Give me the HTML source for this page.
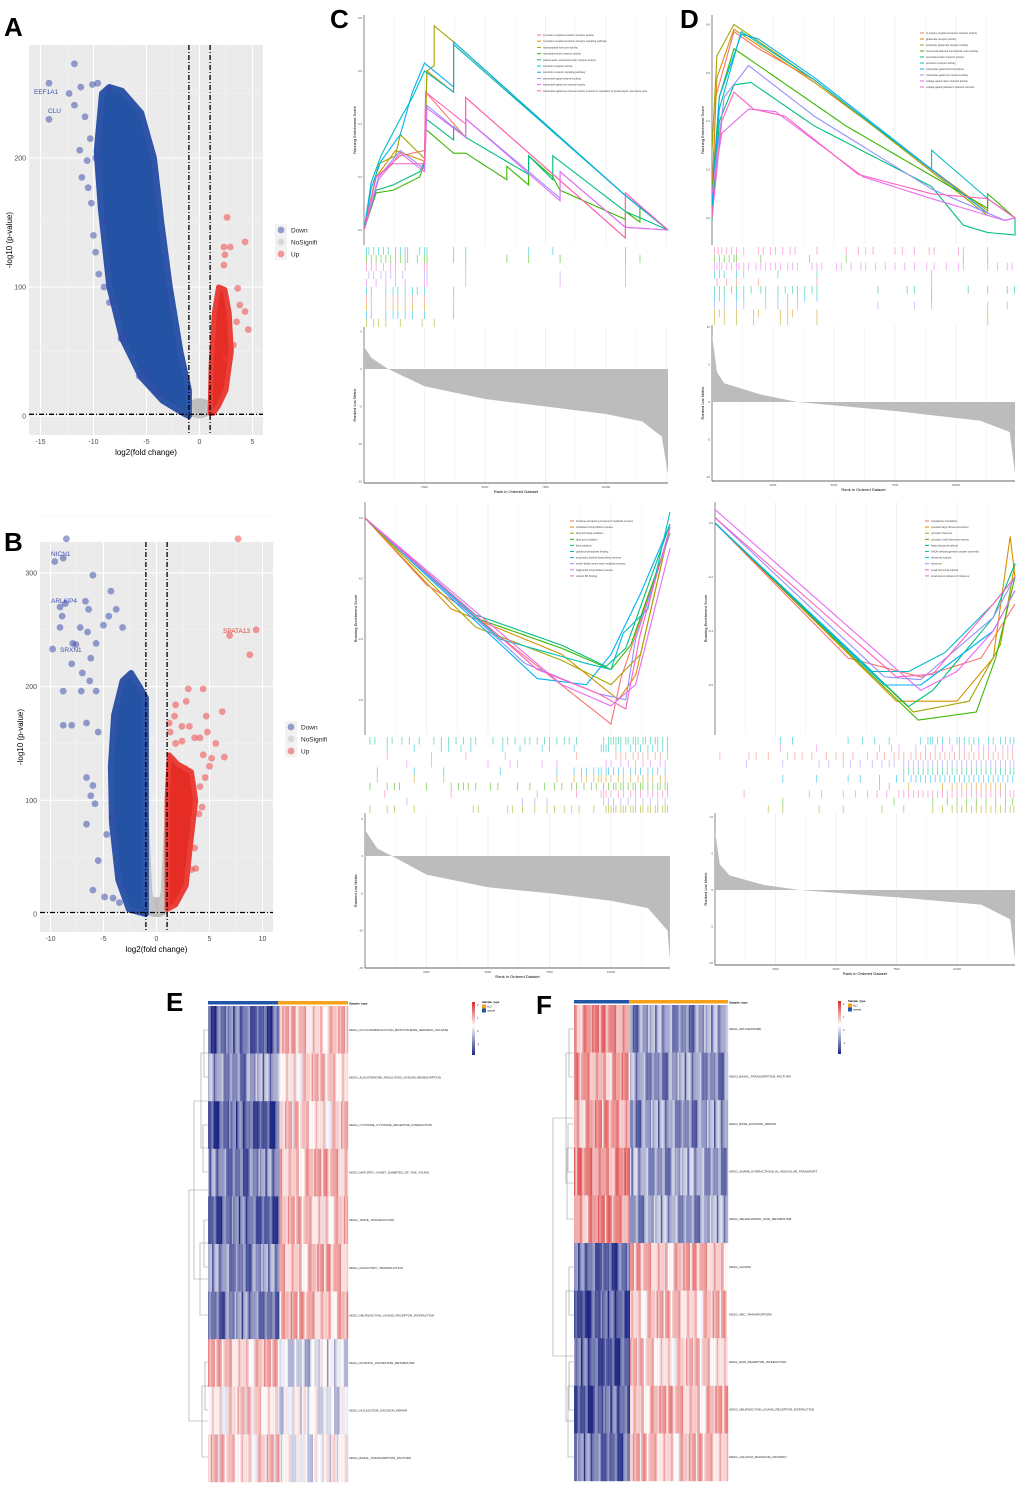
<!DOCTYPE html>
<html><head><meta charset="utf-8"><style>
body{margin:0;background:#fff}
svg{display:block;font-family:"Liberation Sans",sans-serif}
</style></head><body>
<svg id="fig" width="1020" height="1487" viewBox="0 0 1020 1487" xmlns="http://www.w3.org/2000/svg">
<text x="4" y="36" font-size="26" font-weight="bold">A</text>
<text x="4" y="551" font-size="26" font-weight="bold">B</text>
<text x="330" y="28" font-size="26" font-weight="bold">C</text>
<text x="680" y="28" font-size="26" font-weight="bold">D</text>
<text x="166" y="1011" font-size="26" font-weight="bold">E</text>
<text x="536" y="1014" font-size="26" font-weight="bold">F</text>
</svg>
<script>
const svg=document.getElementById('fig');
const NS='http://www.w3.org/2000/svg';
function mk(tag,attrs,parent){const e=document.createElementNS(NS,tag);for(const k in attrs)e.setAttribute(k,attrs[k]);(parent||svg).appendChild(e);return e;}
function txt(x,y,s,size,attrs,parent){const e=mk('text',Object.assign({x:x,y:y,'font-size':size},attrs||{}),parent);e.textContent=s;return e;}

/* ================= VOLCANO DATA ================= */
const aXTicks=[-15,-10,-5,0,5];
const aYTicks=[0,100,200];
const aDownBand=[[-9.2,250],[-9.7,205],[-9.3,160],[-8.5,100],[-7.3,60],[-5.5,30],[-3.5,12],[-1.5,2],[-1,0],[-1,20],[-1.8,50],[-2.8,100],[-3.6,150],[-4.3,200],[-5.5,235],[-7.3,252],[-8.5,255]];
const aUpBand=[[1,2],[1.1,40],[1.4,80],[1.8,100],[2.4,98],[2.8,80],[3.0,50],[2.5,20],[1.8,8],[1.3,2]];
const aDownOut=[[-11.8,273],[-14.2,258],[-12.3,250],[-11.2,255],[-10.1,257],[-8.6,254],[-9.6,258],[-11.8,241],[-14.2,230],[-10.8,232],[-10.3,215],[-11.3,206],[-10.6,198],[-11.1,185],[-10.5,177],[-10.2,165],[-10.0,140],[-9.8,127],[-9.5,110],[-9.0,100],[-8.5,88],[-7.4,60],[-7.0,63],[-5.7,31],[-5.2,35],[-4.8,28],[-4.4,22],[-3.9,18],[-9.0,150],[-9.8,200]];
const aUpOut=[[2.6,154],[4.3,135],[2.3,131],[2.9,131],[2.4,125],[2.3,117],[3.6,99],[3.8,86],[4.3,81],[3.5,73],[4.6,67],[3.2,55],[2.5,45]];
const bXTicks=[-10,-5,0,5,10];
const bYTicks=[0,100,200,300];
const bDownBand=[[-1,0],[-2.6,4],[-3.6,30],[-4.2,80],[-4.3,130],[-4.0,175],[-3.2,205],[-2.4,212],[-1.6,200],[-1.0,190],[-1,60]];
const bUpBand=[[1,4],[1,100],[1.2,140],[2.0,132],[3.3,125],[3.7,100],[3.2,60],[2.8,25],[1.8,8]];
const bDownOut=[[-8.5,330],[-9.6,310],[-8.8,313],[-6,298],[-4.3,284],[-6.7,275],[-9.1,270],[-8.6,273],[-6.4,268],[-3.8,268],[-4.5,262],[-8.9,262],[-7.2,252],[-9.1,252],[-6.5,248],[-5.0,254],[-3.2,252],[-9.8,233],[-7.9,238],[-7.6,237],[-5.7,238],[-8.0,220],[-6.2,225],[-7.0,212],[-6.3,205],[-8.8,196],[-7.1,196],[-5.7,196],[-8.8,166],[-8.0,166],[-6.6,168],[-5.5,160],[-6.6,120],[-6.0,113],[-6.2,104],[-5.8,97],[-6.6,79],[-5.5,47],[-6.0,21],[-4.9,15],[-4.1,14],[-3.5,10],[-4.7,70],[-4.2,85]];
const bUpOut=[[7.7,330],[9.4,250],[6.9,245],[8.8,228],[3.0,198],[4.4,198],[2.8,187],[1.8,184],[1.7,174],[6.2,178],[4.7,174],[1.2,168],[2.4,165],[3.1,165],[4.8,160],[1.3,160],[1.8,150],[2.4,152],[3.6,155],[4.1,155],[5.6,150],[4.4,140],[5.2,137],[6.4,138],[5.0,130],[2.7,128],[4.6,120],[4.1,112],[4.3,94],[4.0,88],[3.6,58],[3.7,40],[3.3,39]];

/* ================= GSEA DATA ================= */
const rankTicks=[2500,5000,7500,10000];
const ctESTicks=[0,0.2,0.4,0.6,0.8];
const dtESTicks=[0,0.2,0.4,0.6,0.8];
const cbESTicks=[0,-0.2,-0.4,-0.6];
const dbESTicks=[0,-0.2,-0.4,-0.6];
const ctMetricTicks=[5,0,-5,-10,-15];
const dtMetricTicks=[10,5,0,-5,-10];
const cbMetricTicks=[5,0,-5,-10,-15];
const dbMetricTicks=[10,5,0,-5,-10];
const ctNames=['G protein-coupled serotonin receptor activity','G protein-coupled serotonin receptor signaling pathway','neuropeptide hormone activity','neurotransmitter receptor activity','postsynaptic neurotransmitter receptor activity','serotonin receptor activity','serotonin receptor signaling pathway','transmitter-gated channel activity','transmitter-gated ion channel activity','transmitter-gated ion channel activity involved in regulation of postsynaptic membrane pote'];
const dtNames=['G protein-coupled serotonin receptor activity','glutamate receptor activity','ionotropic glutamate receptor activity','minus-end-directed microtubule motor activity','neurotransmitter receptor activity','serotonin receptor activity','transmitter-gated channel activity','transmitter-gated ion channel activity','voltage-gated cation channel activity','voltage-gated potassium channel complex'];
const cbNames=['benzene-containing compound metabolic process','cholesterol biosynthetic process','fatty acid beta-oxidation','fatty acid oxidation','lipid oxidation','pyridoxal phosphate binding','secondary alcohol biosynthetic process','serine family amino acid metabolic process','triglyceride biosynthetic process','vitamin B6 binding'];
const dbNames=['cytoplasmic translation','cytosolic large ribosomal subunit','cytosolic ribosome','cytosolic small ribosomal subunit','large ribosomal subunit','NADH dehydrogenase complex assembly','ribosomal subunit','ribosome','small ribosomal subunit','structural constituent of ribosome'];
const ctES=[
[[0,0],[500,.2],[1500,.28],[2500,.3],[2550,.52],[4200,.35],[4200,.5],[10800,-.03],[10800,.14],[12560,0]],
[[0,0],[500,.2],[1300,.3],[2500,.26],[2600,.6],[3700,.52],[3700,.7],[10800,.13],[12560,0]],
[[0,0],[600,.25],[1300,.28],[1500,.36],[2500,.27],[2600,.6],[2900,.62],[2900,.77],[3700,.71],[10800,.13],[12560,0]],
[[0,0],[500,.14],[1200,.15],[2300,.2],[2500,.25],[2550,.38],[3700,.29],[4200,.29],[5900,.19],[5900,.24],[6800,.17],[6800,.28],[7800,.2],[8100,.15],[10800,.04],[10800,.07],[11400,.03],[11400,.09],[12560,0]],
[[0,0],[500,.15],[1200,.17],[2300,.22],[2500,.26],[2550,.42],[3700,.34],[3700,.39],[4200,.35],[6800,.21],[6800,.28],[7800,.19],[7800,.28],[10800,.07],[12560,0]],
[[0,0],[300,.18],[700,.28],[1500,.42],[2000,.5],[2500,.6],[3700,.52],[3700,.7],[10800,.13],[12560,0]],
[[0,0],[300,.16],[700,.26],[1500,.36],[2000,.52],[2500,.63],[3700,.54],[3700,.71],[10800,.13],[12560,0]],
[[0,0],[600,.2],[1500,.3],[2500,.23],[2600,.47],[4200,.35],[4200,.42],[8100,.12],[8100,.22],[10800,.01],[12560,0]],
[[0,0],[600,.19],[1500,.29],[2500,.22],[2600,.46],[4200,.35],[4200,.42],[8100,.11],[8100,.22],[10800,.01],[12560,0]],
[[0,0],[500,.2],[1200,.25],[2500,.25],[2550,.52],[4200,.4],[4200,.5],[10800,-.03],[10800,.14],[12560,0]]];
const dtES=[
[[0,0],[150,.5],[900,.77],[1900,.7],[4200,.57],[11300,.02],[11300,.08],[12420,0]],
[[0,.1],[200,.58],[900,.78],[4200,.56],[11300,.03]],
[[0,.28],[200,.67],[900,.8],[4200,.57],[11300,.01]],
[[0,.1],[300,.5],[900,.7],[5500,.38],[11300,.04],[11300,.1],[12420,0]],
[[0,-.01],[300,.4],[900,.55],[1600,.56],[4200,.38],[9000,.13],[10300,-.03],[11300,-.06],[12420,-.07],[12420,0]],
[[0,.05],[300,.45],[1200,.77],[4200,.57],[9000,.2],[9000,.28],[11300,.08],[12420,0]],
[[0,.05],[300,.5],[1200,.76],[1900,.74],[4200,.58],[11300,.02]],
[[0,.1],[500,.5],[1500,.63],[4200,.42],[9000,.12],[12000,-.01],[12420,0]],
[[0,.1],[400,.35],[1500,.45],[2600,.44],[6200,.17],[9000,.08],[12000,-.01],[12420,0]],
[[0,0],[400,.4],[900,.52],[1700,.45],[3000,.42],[6000,.18],[9000,.1],[11300,.08],[12420,0]]];
const cbES=[
[[0,0],[2500,-.22],[3900,-.29],[10000,-.68],[10400,-.53],[12400,-.05]],
[[0,0],[3500,-.3],[8000,-.45],[10300,-.6],[11000,-.52],[12400,-.03]],
[[0,0],[4500,-.36],[8000,-.47],[10000,-.55],[11200,-.45],[12400,-.03]],
[[0,0],[4500,-.33],[8000,-.43],[10000,-.5],[10800,-.42],[12400,-.05]],
[[0,0],[4500,-.32],[8000,-.42],[9800,-.49],[10600,-.43],[12400,-.02]],
[[0,0],[5500,-.4],[9000,-.48],[10000,-.5],[10500,-.38],[11500,-.3],[12400,.02]],
[[0,0],[7000,-.53],[9000,-.55],[10000,-.45],[11200,-.25],[12400,-.02]],
[[0,0],[6500,-.48],[9500,-.58],[10600,-.6],[11000,-.4],[12400,-.05]],
[[0,0],[8000,-.55],[10000,-.62],[11000,-.55],[12400,-.1]],
[[0,0],[7000,-.5],[9500,-.58],[10600,-.63],[11200,-.38],[12400,-.03]]];
const dbES=[
[[0,0],[5500,-.5],[8500,-.57],[11000,-.5],[12400,-.3]],
[[0,0],[7500,-.66],[10000,-.66],[11500,-.5],[12200,-.05],[12400,-.2]],
[[0,0],[8200,-.7],[10500,-.66],[11800,-.45],[12400,-.15]],
[[0,0],[8400,-.73],[10800,-.7],[11600,-.5],[12400,-.2]],
[[0,0],[8000,-.68],[9000,-.62],[11500,-.35],[12400,-.15]],
[[0,0],[6500,-.55],[8000,-.55],[9500,-.48],[11500,-.3],[12400,-.2]],
[[0,0],[7000,-.6],[8500,-.6],[11500,-.4],[12400,-.25]],
[[0,.02],[7000,-.57],[8500,-.58],[11500,-.35],[12400,-.2]],
[[0,.05],[8500,-.62],[10000,-.55],[11500,-.4],[12400,-.25]],
[[0,.02],[7500,-.57],[9000,-.56],[11500,-.3],[12400,-.2]]];
const ctMetric=[[0,3],[300,1.5],[1000,0],[2500,-2.3],[5000,-4],[7500,-5],[10000,-6],[11500,-7],[12300,-9],[12560,-14]];
const dtMetric=[[0,9],[200,4],[500,2.5],[2000,1],[3500,0],[7500,-1.2],[11000,-2.5],[12200,-4],[12420,-9.5]];
const cbMetric=[[0,3.5],[500,1],[1100,0],[2500,-2.5],[5000,-4.2],[7500,-5],[10000,-6],[11500,-7],[12300,-10],[12400,-14]];
const dbMetric=[[0,8],[200,3.5],[600,2],[2000,.7],[3500,0],[7500,-1],[11000,-2],[12200,-4],[12400,-9.5]];
const ctHits=[[5,[100,200,400,600,800,1000,1300,1500,1700,1800,2300,2500,2600,3700,4200,6800,7800,10800]],
[3,[100,300,500,700,900,1100,1300,1500,1700,1800,2200,2500,2600,3700,4200,5900,6800,8100,10800,11400]],
[9,[100,300,500,800,1100,1300,1700,2500,2600,4200,10800]],
[7,[200,400,700,900,1100,1300,1600,2500,2600,4200,8100,10800]],
[8,[100,500,900,1300,1700,2500,2600,4200,8100,10800]],
[5,[100,300,900,1200,1400,1700,2000,2200,2500,3700]],
[0,[100,300,900,1200,1400,1700,2000,2500,3700]],
[1,[100,300,900,1200,1400,1700,2000,2500,3700]],
[6,[100,300,900,1200,1400,1700,2000,2500,3700]],
[2,[100,400,600,900,1500,2400,2900]]];
const dtHits=[[9,[100,250,400,600,800,1000,1300,1900,2100,2400,2600,2900,3200,3400,4300,5500,6000,6300,6600,7500,7800,8300,8900,9100,10100,10300,11300]],
[3,[100,300,500,700,900,1000,2000,4000,5500,10300,11300]],
[8,[100,200,300,400,600,800,1000,1100,1300,1500,1800,2000,2200,2400,2600,2800,3100,3300,3500,4100,4300,4500,5100,5300,5700,6100,6300,6700,7100,7500,7900,8300,8800,9100,9600,10100,10300,11300,11700,12100,12300]],
[5,[100,300,500,1000,1300,2700,4300,9000]],
[0,[200,600,1000,1900,4300,9000]],
[4,[100,300,500,800,1000,1300,1600,2000,2200,2700,3000,3300,3500,3800,4100,4300,6800,8000,8300,9000,10500,11300,12100,12400]],
[6,[100,300,500,1000,1300,2200,2700,3100,3500,3800,4300,9000]],
[7,[100,500,1000,1300,2200,2700,3100,3500,6800,8300,9000,11300,12100]],
[1,[100,300,500,1000,1700,1900,2800,3100,3300,4300,11300]],
[2,[100,500,1000,1700,2800,3100,4300,11300]]];
const cbHits=[[4,[200,400,900,1100,1500,1800,2200,2800,3100,3400,3700,4000,4300,4500,5200,5600,5800,6100,6500,6700,7000,7300,7500,7800,8100,8300,8600,9700,9900,10000,10100,10200,10300,10400,10600,10700,10900,11000,11100,11300,11400,11600,11800,11900,12100,12300]],
[5,[900,2000,3100,3400,3900,4300,5600,6300,7200,7500,8500,9600,9700,9800,9900,10200,10400,10800,11000,11200,11500,11700,11900,12100,12300]],
[0,[900,2700,4100,5700,8600,10200,10400,10600,10900,11100,11300,11500,11800,12000,12300]],
[8,[1700,2700,5000,5900,6200,7200,7800,9800,10000,10400,10700,11000,11300,11600,12000,12200]],
[6,[500,2000,3200,5500,7800,8500,8800,9000,9300,9500,9600,9800,9900,10100,10300,10500,10800,11000,11200,11500,11700,11900,12200]],
[1,[500,2000,3200,7800,8500,8800,9000,9300,9500,9600,9800,10000,10300,10500,10800,11100,11300,11500,11700,12000,12200]],
[3,[200,900,1200,1400,2500,3500,3800,4000,4200,4500,5100,5400,6200,6700,7300,7700,8000,8400,8600,8900,9200,9400,9700,9900,10100,10200,10400,10500,10700,10900,11000,11200,11300,11500,11700,11900,12000,12200,12300]],
[9,[800,3500,7000,8600,9600,9700,9800,10000,10300,10500,10800,11000,11200,11500,11700,11900,12100,12300]],
[7,[1700,6400,6900,7400,9700,9900,10100,10400,10700,11000,11300,11600,11900,12200]],
[2,[200,900,1200,2000,4400,4600,5800,6000,6400,6900,7400,7700,8100,8400,8700,9300,9800,9900,10000,10100,10200,10400,10500,10600,10800,10900,11000,11200,11300,11500,11600,11800,11900,12100,12200,12300]]];
const dbHits=[[5,[2700,3200,5500,6100,6600,7200,8500,8800,8900,9000,9200,9400,9700,10000,10100,10300,10500,10700,10900,11300,11500,11800,12000,12200,12350]],
[8,[2700,4200,6800,7300,7600,8300,8700,9100,9400,9800,10100,10300,10600,10900,11100,11300,11600,11900,12100,12300]],
[0,[200,1400,1700,2200,3000,3300,3600,4000,4600,5000,5300,5700,6300,6700,7000,7400,7600,7800,8100,8300,8500,8700,8900,9100,9300,9500,9700,9900,10100,10300,10500,10700,10900,11100,11300,11500,11700,11900,12100,12300]],
[7,[1300,2800,4300,4700,5300,5600,6000,6500,6900,7200,7400,7800,8000,8200,8400,8600,8800,9000,9200,9400,9600,9800,10000,10200,10400,10600,10800,11000,11200,11400,11600,11800,12000,12200,12350]],
[4,[7800,8000,8200,8400,8600,8800,9000,9200,9400,9600,9800,10000,10200,10400,10600,10800,11000,11200,11400,11600,11800,12000,12200,12350]],
[6,[2800,4200,5500,6000,6800,7500,7800,8100,8300,8500,8700,8900,9100,9300,9500,9700,9900,10100,10300,10500,10700,10900,11100,11300,11500,11700,11900,12100,12300]],
[1,[6800,7200,8000,9400,9800,10000,10200,10400,10600,10800,11000,11200,11400,11600,11800,12000]],
[9,[1200,3900,4400,5300,5800,6300,6700,7100,7600,7800,8000,8200,8400,8600,8800,9000,9200,9400,9600,9800,10000,10200,10400,10600,10800,11000,11200,11400,11600,11800,12000,12200,12350]],
[3,[2800,7400,9000,9600,10000,10400,10800,11200,11600,12000,12300]],
[2,[2200,2800,4300,5300,6900,7800,9000,9400,9800,10000,10200,10400,10600,10800,11000,11200,11400,11600,11800,12000,12200,12350]]];
const hue=['#F8766D','#D89000','#A3A500','#39B600','#00BF7D','#00BFC4','#00B0F6','#9590FF','#E76BF3','#FF62BC'];

/* ================= HEATMAP DATA ================= */
const eRows=['KEGG_GLYCOSAMINOGLYCAN_BIOSYNTHESIS_HEPARAN_SULFATE','KEGG_ALDOSTERONE_REGULATED_SODIUM_REABSORPTION','KEGG_CYTOKINE_CYTOKINE_RECEPTOR_INTERACTION','KEGG_MATURITY_ONSET_DIABETES_OF_THE_YOUNG','KEGG_TASTE_TRANSDUCTION','KEGG_OLFACTORY_TRANSDUCTION','KEGG_NEUROACTIVE_LIGAND_RECEPTOR_INTERACTION','KEGG_INOSITOL_PHOSPHATE_METABOLISM','KEGG_NUCLEOTIDE_EXCISION_REPAIR','KEGG_BASAL_TRANSCRIPTION_FACTORS'];
const eLeft=[-1.4,-1.0,-1.5,-1.2,-1.4,-1.1,-1.2,0.5,0.3,0.4];
const eRight=[0.5,0.4,0.4,0.6,0.5,0.6,0.6,-0.4,-0.2,-0.1];
const fRows=['KEGG_SPLICEOSOME','KEGG_BASAL_TRANSCRIPTION_FACTORS','KEGG_BASE_EXCISION_REPAIR','KEGG_SNARE_INTERACTIONS_IN_VESICULAR_TRANSPORT','KEGG_SELENOAMINO_ACID_METABOLISM','KEGG_GLIOMA','KEGG_ABC_TRANSPORTERS','KEGG_ECM_RECEPTOR_INTERACTION','KEGG_NEUROACTIVE_LIGAND_RECEPTOR_INTERACTION','KEGG_CALCIUM_SIGNALING_PATHWAY'];
const fLeft=[0.9,0.8,0.8,1.0,0.9,-1.4,-1.6,-1.5,-1.5,-1.3];
const fRight=[-1.0,-1.0,-1.0,-0.9,-0.9,0.6,0.5,0.4,0.6,0.5];
const stripeTex=[0.3,-0.5,0.1,0.6,-0.2,0.4,-0.7,0.2,0.0,0.5,-0.3,0.7,-0.1,0.3,-0.6,0.2,0.5,-0.4,0.1,-0.2,0.6,-0.5,0.3,0.0,-0.3,0.4,-0.1,0.7,-0.6,0.2,0.1,-0.4,0.5,-0.2,0.3,-0.7,0.4,0.0,-0.1,0.6];

/* ================= VOLCANO DRAW ================= */
function volcano(cfg){
  const g=mk('g',{});
  
  
  const X=v=>cfg.x0+(v-cfg.xref)*cfg.ppx, Y=v=>cfg.y0-v*cfg.ppy;
  const bg=mk('rect',{x:cfg.L,y:cfg.T,width:cfg.R-cfg.L,height:cfg.B-cfg.T,fill:'#ebebeb'},g);
  
  cfg.xt.forEach((t,i)=>{
    mk('line',{x1:X(t),x2:X(t),y1:cfg.T,y2:cfg.B,stroke:'#fff','stroke-width':1},g);
    if(i<cfg.xt.length-1)mk('line',{x1:X(t+2.5),x2:X(t+2.5),y1:cfg.T,y2:cfg.B,stroke:'#f5f5f5','stroke-width':.5},g);
    const tl=txt(X(t),cfg.B+9,String(t),7,{'text-anchor':'middle',fill:'#4d4d4d'},g);
    
  });
  cfg.yt.forEach(t=>{
    mk('line',{x1:cfg.L,x2:cfg.R,y1:Y(t),y2:Y(t),stroke:'#fff','stroke-width':1},g);
    mk('line',{x1:cfg.L,x2:cfg.R,y1:Y(t+50),y2:Y(t+50),stroke:'#f5f5f5','stroke-width':.5},g);
    const tl=txt(cfg.L-3,Y(t)+2.5,String(t),7,{'text-anchor':'end',fill:'#4d4d4d'},g);
    
  });
  const ns=mk('ellipse',{cx:X(0),cy:Y(6),rx:(X(1.2)-X(0)),ry:10,fill:'#bdbdbd'},g);
  
  mk('polygon',{points:cfg.nsV.map(p=>X(p[0])+','+Y(p[1])).join(' '),fill:'#c4c4c4'},g);
  const db=mk('polygon',{points:cfg.down.map(p=>X(p[0])+','+Y(p[1])).join(' '),fill:'#2452a5',stroke:'#2e55a8','stroke-width':6,'stroke-linejoin':'round'},g);
  
  const ub=mk('polygon',{points:cfg.up.map(p=>X(p[0])+','+Y(p[1])).join(' '),fill:'#e62d25',stroke:'#ea3f38','stroke-width':5,'stroke-linejoin':'round'},g);
  
  cfg.downOut.forEach(p=>{const c=mk('circle',{cx:X(p[0]),cy:Y(p[1]),r:3.4,fill:'rgba(52,72,168,0.5)'},g);});
  cfg.upOut.forEach(p=>{const c=mk('circle',{cx:X(p[0]),cy:Y(p[1]),r:3.4,fill:'rgba(240,60,60,0.5)'},g);});
  [-1,1].forEach(v=>{const l=mk('line',{x1:X(v),x2:X(v),y1:cfg.T,y2:cfg.B,stroke:'#000','stroke-width':1.3,'stroke-dasharray':'5,2,1,2'},g);});
  const hl=mk('line',{x1:cfg.L,x2:cfg.R,y1:Y(1.3),y2:Y(1.3),stroke:'#000','stroke-width':1.3,'stroke-dasharray':'5,2,1,2'},g);
  
  cfg.labels.forEach(l=>{const t=txt(l[0],l[1],l[2],6.5,{fill:l[3]},g);});
  const xt=txt((cfg.L+cfg.R)/2,cfg.B+20,'log2(fold change)',8,{'text-anchor':'middle'},g);
  
  const yt=txt(0,0,'-log10 (p-value)',8,{'text-anchor':'middle',transform:`translate(${cfg.L-17},${(cfg.T+cfg.B)/2}) rotate(-90)`},g);
  
  const lg=mk('g',{},g);
  mk('rect',{x:cfg.lx,y:cfg.ly,width:12,height:36,fill:'#f2f2f2'},lg);
  [['Down','rgba(52,72,168,0.5)'],['NoSignifi','#d9d9d9'],['Up','rgba(240,60,60,0.5)']].forEach((e,i)=>{
    const c=mk('circle',{cx:cfg.lx+6,cy:cfg.ly+6+i*12,r:3.4,fill:e[1]},lg);
    
    const t=txt(cfg.lx+16,cfg.ly+8.5+i*12,e[0],6.5,{fill:'#222'},lg);
    
  });
}
volcano({name:'volcano-plot-a',L:29,R:263,T:45,B:435,x0:199.5,xref:0,ppx:10.6,y0:416,ppy:1.29,xt:aXTicks,yt:aYTicks,
 down:aDownBand,up:aUpBand,downOut:aDownOut,upOut:aUpOut,nsV:[[-1,12],[0,0],[1,14],[1,4],[0,-2],[-1,2]],
 labels:[[34,94,'EEF1A1','#3d4eb0'],[48,113,'CLU','#3d4eb0']],lx:275,ly:224});
volcano({name:'volcano-plot-b',L:40,R:273,T:542,B:932,x0:156.5,xref:0,ppx:10.6,y0:914,ppy:1.137,xt:bXTicks,yt:bYTicks,
 down:bDownBand,up:bUpBand,downOut:bDownOut,upOut:bUpOut,nsV:[[-1,140],[-0.4,20],[0,0],[0.4,20],[1,130],[1,0],[-1,0]],
 labels:[[51,556,'NICN1','#3d4eb0'],[51,603,'ARL6IP4','#3d4eb0'],[60,652,'SRXN1','#3d4eb0'],[223,633,'SPATA13','#e03a32']],lx:285,ly:721});

/* ================= GSEA DRAW ================= */
function gsea(cfg){
  const g=mk('g',{});
  
  
  const X=r=>cfg.x0+r/cfg.rmax*(cfg.x1-cfg.x0);
  const YE=v=>cfg.esZero-v*cfg.esPpu;
  const YM=v=>cfg.mZero-v*cfg.mPpu;
  for(let r=1250;r<cfg.rmax;r+=1250){
    [[cfg.top,cfg.esBot],[cfg.mTop,cfg.bot]].forEach(s=>mk('line',{x1:X(r),x2:X(r),y1:s[0],y2:s[1],stroke:r%2500==0?'#e8e8e8':'#f3f3f3','stroke-width':.6},g));
  }
  mk('line',{x1:cfg.x0,x2:cfg.x0,y1:cfg.top,y2:cfg.esBot,stroke:'#333','stroke-width':.6},g);
  mk('line',{x1:cfg.x0,x2:cfg.x0,y1:cfg.mTop,y2:cfg.bot,stroke:'#333','stroke-width':.6},g);
  mk('line',{x1:cfg.x0,x2:cfg.x1,y1:cfg.bot,y2:cfg.bot,stroke:'#333','stroke-width':.8},g);
  cfg.esTicks.forEach(t=>{const l=txt(cfg.x0-2,YE(t)+1,String(t.toFixed(1)),3,{'text-anchor':'end',fill:'#555'},g);});
  cfg.mTicks.forEach(t=>{const l=txt(cfg.x0-2,YM(t)+1,String(t),3,{'text-anchor':'end',fill:'#555'},g);});
  rankTicks.forEach(t=>{const l=txt(X(t),cfg.bot+5,String(t),3,{'text-anchor':'middle',fill:'#555'},g);});
  const xt=txt((cfg.x0+cfg.x1)/2,cfg.bot+10,'Rank in Ordered Dataset',4,{'text-anchor':'middle'},g);
  
  const y1=txt(0,0,'Running Enrichment Score',4,{'text-anchor':'middle',transform:`translate(${cfg.x0-8},${(cfg.top+cfg.esBot)/2}) rotate(-90)`},g);
  
  const y2=txt(0,0,'Ranked List Metric',4,{'text-anchor':'middle',transform:`translate(${cfg.x0-8},${(cfg.mTop+cfg.bot)/2}) rotate(-90)`},g);
  
  cfg.es.forEach((s,i)=>{
    const pts=[];s.forEach((p,j)=>{
      if(j>0){
        const pr=s[j-1];
        if(p[0]!==pr[0]){const n=Math.max(1,Math.round((X(p[0])-X(pr[0]))/6));
          for(let k=1;k<n;k++){const rr=pr[0]+(p[0]-pr[0])*k/n,vv=pr[1]+(p[1]-pr[1])*k/n;pts.push(X(rr)+','+YE(vv));}}
      }
      pts.push(X(p[0])+','+YE(p[1]));});
    const pl=mk('polyline',{points:pts.join(' '),fill:'none',stroke:hue[i],'stroke-width':1.1},g);
    
  });
  const rh=(cfg.hBot-cfg.hTop)/cfg.hits.length;
  cfg.hits.forEach((row,i)=>{
    row[1].forEach(r=>{const l=mk('rect',{x:X(r)-.4,y:cfg.hTop+i*rh,width:.9,height:rh,fill:hue[row[0]],opacity:.55},g);});
  });
  const mp=cfg.metric.map(p=>X(p[0])+','+YM(p[1]));
  const area=mk('polygon',{points:X(0)+','+YM(0)+' '+mp.join(' ')+' '+X(cfg.metric[cfg.metric.length-1][0])+','+YM(0),fill:'#bcbcbc'},g);
  
  const lg=mk('g',{},g);
  cfg.names.forEach((n,i)=>{
    const y=cfg.ly+i*cfg.ls;
    mk('line',{x1:cfg.lx,x2:cfg.lx+4,y1:y,y2:y,stroke:hue[i],'stroke-width':1},lg);
    const t=txt(cfg.lx+6,y+1,n,2.6,{fill:'#444'},lg);
    
  });
}
gsea({name:'gsea-plot-c-top',x0:364,x1:668,rmax:12560,top:15,esBot:245,esZero:230,esPpu:265,esTicks:ctESTicks,hTop:247,hBot:327,mTop:327,bot:483,mZero:369,mPpu:7.5,mTicks:ctMetricTicks,es:ctES,hits:ctHits,metric:ctMetric,names:ctNames,lx:537,ly:35,ls:6.2});
gsea({name:'gsea-plot-d-top',x0:712,x1:1015,rmax:12420,top:15,esBot:245,esZero:218,esPpu:242,esTicks:dtESTicks,hTop:247,hBot:325,mTop:325,bot:481,mZero:402,mPpu:7.5,mTicks:dtMetricTicks,es:dtES,hits:dtHits,metric:dtMetric,names:dtNames,lx:920,ly:33,ls:6});
gsea({name:'gsea-plot-c-bottom',x0:365,x1:670,rmax:12400,top:502,esBot:735,esZero:518,esPpu:303,esTicks:cbESTicks,hTop:737,hBot:813,mTop:813,bot:968,mZero:856,mPpu:7.45,mTicks:cbMetricTicks,es:cbES,hits:cbHits,metric:cbMetric,names:cbNames,lx:570,ly:521,ls:6.1});
gsea({name:'gsea-plot-d-bottom',x0:715,x1:1015,rmax:12400,top:502,esBot:735,esZero:523,esPpu:270,esTicks:dbESTicks,hTop:737,hBot:813,mTop:813,bot:965,mZero:890,mPpu:7.3,mTicks:dbMetricTicks,es:dbES,hits:dbHits,metric:dbMetric,names:dbNames,lx:925,ly:521,ls:6.1});

/* ================= HEATMAP DRAW ================= */
function hcol(v){v=Math.max(-2,Math.min(2,v));
  const lerp=(a,b,t)=>a.map((x,i)=>Math.round(x+(b[i]-x)*t));
  const c=v<0?lerp([255,255,255],[30,40,130],-v/2):lerp([255,255,255],[215,40,40],v/2);
  return `rgb(${c[0]},${c[1]},${c[2]})`;}
function heatmap(cfg){
  const g=mk('g',{});
  
  
  const n=cfg.rows.length, rh=(cfg.bot-cfg.top)/n, cw=1.4;
  const a1=mk('rect',{x:cfg.L,y:cfg.top-5,width:cfg.S-cfg.L,height:3.5,fill:'#2257a8'},g);
  
  const a2=mk('rect',{x:cfg.S,y:cfg.top-5,width:cfg.R-cfg.S,height:3.5,fill:'#f5a21a'},g);
  
  txt(cfg.R+1,cfg.top-1.5,'Sample_type',3,{'font-weight':'bold'},g);
  cfg.rows.forEach((name,i)=>{
    const y=cfg.top+i*rh;
    let k=0;
    for(let x=cfg.L;x<cfg.R-0.01;x+=cw,k++){
      const base=x<cfg.S?cfg.left[i]:cfg.right[i];
      const v=base+stripeTex[(k*7+i*13)%stripeTex.length]*0.9;
      const c=mk('rect',{x:x,y:y,width:cw+0.2,height:rh+0.2,fill:hcol(v)},g);
      
    }
    const t=txt(cfg.R+1,y+rh/2+1,name,3,{fill:'#222'},g);
    
  });
  const dg=mk('g',{stroke:'#999','stroke-width':.6,fill:'none'},g);
  const D=cfg.L;
  cfg.tree.forEach(b=>{mk('path',{d:`M${D},${b[0]} H${D-b[2]} V${b[1]} H${D}`},dg);});
  const lg=mk('g',{},g);
  const gid='grad'+cfg.name;const defs=mk('defs',{},lg);const gr=mk('linearGradient',{id:gid,x1:0,y1:0,x2:0,y2:1},defs);
  mk('stop',{offset:'0','stop-color':'#d62828'},gr);mk('stop',{offset:'0.45','stop-color':'#fff'},gr);mk('stop',{offset:'1','stop-color':'#1e2882'},gr);
  mk('rect',{x:cfg.lgx,y:cfg.top-4,width:3,height:53,fill:`url(#${gid})`},lg);
  ['2','1','0','-1'].forEach((s,i)=>txt(cfg.lgx+5,cfg.top+i*13,s,2.6,{fill:'#333'},lg));
  txt(cfg.lgx+10,cfg.top-3,'Sample_type',2.8,{'font-weight':'bold'},lg);
  mk('rect',{x:cfg.lgx+10,y:cfg.top-1.5,width:4,height:4,fill:'#f5a21a'},lg);
  mk('rect',{x:cfg.lgx+10,y:cfg.top+2.5,width:4,height:4,fill:'#2257a8'},lg);
  txt(cfg.lgx+15,cfg.top+1.5,'ALJ',2.6,{},lg);txt(cfg.lgx+15,cfg.top+5.5,'normal',2.6,{},lg);
}
heatmap({name:'heatmap-e',L:208,S:278,R:348,top:1006,bot:1482,rows:eRows,left:eLeft,right:eRight,lgx:472,
 tree:[[1030,1077,4],[1125,1172,5],[1220,1267,4],[1053,1148,7],[1243,1315,8],[1101,1279,14],[1362,1410,3],[1386,1457,6],[1190,1421,19]]});
heatmap({name:'heatmap-f',L:574,S:629,R:728,top:1005,bot:1481,rows:fRows,left:fLeft,right:fRight,lgx:838,
 tree:[[1029,1077,5],[1124,1172,6],[1148,1219,7],[1053,1183,8],[1267,1315,5],[1362,1410,5],[1386,1457,6],[1291,1421,8],[1118,1356,21]]});
</script>
</body></html>
